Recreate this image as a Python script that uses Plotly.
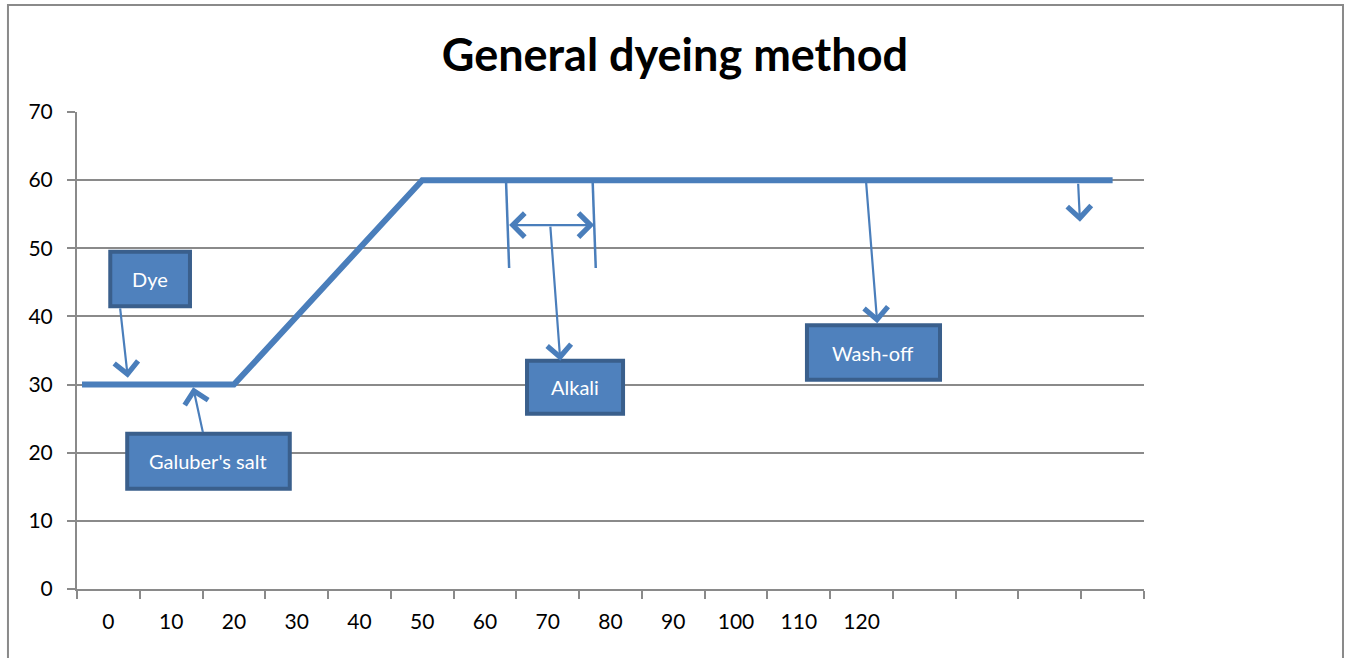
import plotly.graph_objects as go

# ---- data ----
time_min = [-4.2, 20, 50, 160]
temperature = [30, 30, 60, 60]
x_tick_vals = [0, 10, 20, 30, 40, 50, 60, 70, 80, 90, 100, 110, 120]
x_tick_text = ["0", "10", "20", "30", "40", "50", "60", "70", "80", "90", "100", "110", "120"]
y_tick_vals = [0, 10, 20, 30, 40, 50, 60, 70]

# callout boxes: label, x0, x1, y0, y1 (data units)
box_labels = ["Dye", "Galuber's salt", "Alkali", "Wash-off"]
box_x0 = [0.3, 3.0, 66.7, 111.3]
box_x1 = [13.0, 28.9, 82.0, 132.5]
box_y0 = [41.5, 14.7, 25.7, 30.7]
box_y1 = [49.5, 22.8, 33.5, 38.7]

# arrows: tail (ax, ay) -> head (x, y)
arrow_ax = [1.85, 15.1, 70.4, 120.7, 154.5]
arrow_ay = [41.4, 22.8, 53.4, 60.0, 59.7]
arrow_x = [3.1, 13.5, 72.0, 122.5, 154.8]
arrow_y = [31.0, 29.6, 33.5, 39.0, 53.9]

# alkali interval markers
alk_x_start, alk_x_end = 63.6, 77.4
alk_arrow_y = 53.4
alk_mark_bottom = 47.1

LINE = "#4a7ebb"
GRID = "#8a8a8a"
FONT = "Lato, 'Open Sans', sans-serif"

fig = go.Figure()
fig.add_trace(go.Scatter(x=time_min, y=temperature, mode="lines",
                         line=dict(color=LINE, width=6), hoverinfo="skip",
                         showlegend=False))

shapes = []
# outer chart border
shapes.append(dict(type="rect", xref="paper", yref="paper",
                   x0=-0.0647, x1=1.1865, y0=-0.3, y1=1.2243,
                   line=dict(color=GRID, width=2), fillcolor="rgba(0,0,0,0)",
                   layer="below"))
for x0, x1, y0, y1 in zip(box_x0, box_x1, box_y0, box_y1):
    shapes.append(dict(type="rect", xref="x", yref="y", x0=x0, x1=x1, y0=y0, y1=y1,
                       fillcolor="#4f81bd", line=dict(color="#3a5f8c", width=4)))
# alkali vertical markers
shapes.append(dict(type="line", xref="x", yref="y", x0=alk_x_start - 0.25, x1=alk_x_start + 0.25,
                   y0=60, y1=alk_mark_bottom, line=dict(color=LINE, width=2.5)))
shapes.append(dict(type="line", xref="x", yref="y", x0=alk_x_end - 0.25, x1=alk_x_end + 0.25,
                   y0=60, y1=alk_mark_bottom, line=dict(color=LINE, width=2.5)))

annotations = []
for lab, x0, x1, y0, y1 in zip(box_labels, box_x0, box_x1, box_y0, box_y1):
    annotations.append(dict(x=(x0 + x1) / 2, y=(y0 + y1) / 2, xref="x", yref="y",
                            text=lab, showarrow=False,
                            font=dict(family=FONT, size=20, color="white")))
for ax, ay, x, y in zip(arrow_ax, arrow_ay, arrow_x, arrow_y):
    annotations.append(dict(x=x, y=y, ax=ax, ay=ay, xref="x", yref="y",
                            axref="x", ayref="y", text="", showarrow=True,
                            arrowhead=4, arrowsize=2.1, arrowwidth=2.2,
                            arrowcolor=LINE))
annotations.append(dict(x=alk_x_end, y=alk_arrow_y, ax=alk_x_start, ay=alk_arrow_y,
                        xref="x", yref="y", axref="x", ayref="y", text="",
                        showarrow=True, arrowside="end+start",
                        arrowhead=4, startarrowhead=4, arrowsize=2.1,
                        startarrowsize=2.1, arrowwidth=2.2, arrowcolor=LINE))

fig.update_layout(
    width=1349, height=658,
    margin=dict(l=77, r=205, t=112, b=69),
    paper_bgcolor="white", plot_bgcolor="white",
    title=dict(text="<b>General dyeing method</b>", x=0.5604, xref="paper",
               y=1 - 55 / 658, yref="container", yanchor="middle", xanchor="center",
               font=dict(family=FONT, size=45, color="black")),
    shapes=shapes, annotations=annotations,
    xaxis=dict(range=[-5, 165], tickmode="array", tickvals=x_tick_vals,
               ticktext=x_tick_text, ticks="", showgrid=False, zeroline=False,
               showline=True, linecolor=GRID, linewidth=2,
               ticklabelstandoff=13,
               tickfont=dict(family=FONT, size=21, color="black"),
               minor=dict(tick0=-5, dtick=10, ticks="outside", ticklen=8,
                          tickcolor=GRID, tickwidth=2, showgrid=False)),
    yaxis=dict(range=[0, 70], tickmode="array", tickvals=y_tick_vals,
               ticks="outside", ticklen=8, tickcolor=GRID, tickwidth=2,
               showgrid=True, gridcolor=GRID, gridwidth=2, zeroline=False,
               showline=True, linecolor=GRID, linewidth=2,
               ticklabelstandoff=10,
               tickfont=dict(family=FONT, size=21, color="black")),
)

fig.write_html("out.html", config={"displayModeBar": False},
               post_script="document.body.style.margin='0';document.body.style.overflow='hidden';")
